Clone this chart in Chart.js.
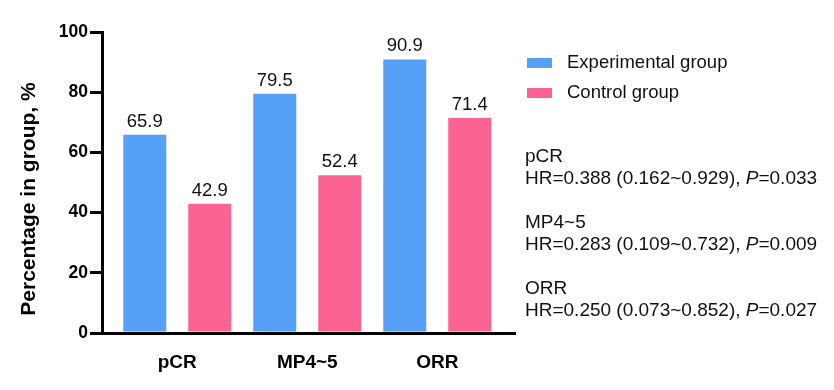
<!DOCTYPE html>
<html>
<head>
<meta charset="utf-8">
<script src="https://cdn.jsdelivr.net/npm/chart.js@4"></script>
<style>
  html, body { margin: 0; padding: 0; background: #fff; }
  #wrap { width: 834px; height: 390px; position: relative; }
</style>
</head>
<body>
<div id="wrap"><canvas id="c" width="834" height="390"></canvas></div>
<script>
// ---- data ----
const categories = ['pCR', 'MP4~5', 'ORR'];
const experimentalValues = [65.9, 79.5, 90.9];
const controlValues = [42.9, 52.4, 71.4];
const seriesNames = ['Experimental group', 'Control group'];
const yTicks = [0, 20, 40, 60, 80, 100];
const yTitle = 'Percentage in group, %';
const hrValues = ['0.388', '0.283', '0.250'];
const ciLow = ['0.162', '0.109', '0.073'];
const ciHigh = ['0.929', '0.732', '0.852'];
const pValues = ['0.033', '0.009', '0.027'];

const FONT = '"Liberation Sans", Arial, Helvetica, sans-serif';
const BLUE = '#56A0F8';
const PINK = '#FB6492';

const overlay = {
  id: 'overlay',
  afterDraw(chart) {
    const ctx = chart.ctx;
    ctx.save();
    // data labels
    ctx.fillStyle = '#111';
    ctx.font = '18.5px ' + FONT;
    ctx.textAlign = 'center';
    ctx.textBaseline = 'alphabetic';
    chart.data.datasets.forEach((ds, di) => {
      const meta = chart.getDatasetMeta(di);
      meta.data.forEach((bar, i) => {
        ctx.fillText(ds.data[i].y.toFixed(1), bar.x, bar.y - 8);
      });
    });
    // y title
    ctx.save();
    ctx.translate(29, 199);
    ctx.rotate(-Math.PI / 2);
    ctx.font = 'bold 21px ' + FONT;
    ctx.textAlign = 'center';
    ctx.textBaseline = 'middle';
    ctx.fillStyle = '#000';
    ctx.fillText(yTitle, 0, 0);
    ctx.restore();
    // legend
    ctx.font = '18.5px ' + FONT;
    ctx.textAlign = 'left';
    ctx.textBaseline = 'middle';
    chart.data.datasets.forEach((ds, di) => {
      const cy = 63 + di * 30;
      ctx.fillStyle = ds.backgroundColor;
      ctx.fillRect(527, cy - 5, 25, 10);
      ctx.fillStyle = '#111';
      ctx.fillText(ds.label, 567, cy);
    });
    // HR annotations
    categories.forEach((cat, i) => {
      const y1 = 157 + i * 66;
      const y2 = y1 + 22;
      const x0 = 525;
      ctx.font = '19px ' + FONT;
      ctx.fillStyle = '#111';
      ctx.fillText(cat, x0, y1);
      const part1 = 'HR=' + hrValues[i] + ' (' + ciLow[i] + '~' + ciHigh[i] + '), ';
      ctx.fillText(part1, x0, y2);
      let x = x0 + ctx.measureText(part1).width;
      ctx.font = 'italic 19px ' + FONT;
      ctx.fillText('P', x, y2);
      x += ctx.measureText('P').width;
      ctx.font = '19px ' + FONT;
      ctx.fillText('=' + pValues[i], x, y2);
    });
    ctx.restore();
  }
};

new Chart(document.getElementById('c'), {
  type: 'bar',
  data: {
    datasets: [
      { label: seriesNames[0], data: experimentalValues.map((v, i) => ({ x: i, y: v })), backgroundColor: BLUE },
      { label: seriesNames[1], data: controlValues.map((v, i) => ({ x: i, y: v })), backgroundColor: PINK }
    ]
  },
  options: {
    responsive: false,
    animation: false,
    events: [],
    layout: { padding: { top: 32, right: 319, bottom: 0, left: 0 } },
    plugins: { legend: { display: false }, tooltip: { enabled: false } },
    datasets: { bar: { categoryPercentage: 1, barPercentage: 0.662 } },
    scales: {
      x: {
        type: 'linear',
        offset: false,
        min: -0.579,
        max: 2.598,
        grid: { display: false, drawTicks: false },
        border: { display: true, color: '#000', width: 3 },
        afterBuildTicks: (s) => { s.ticks = categories.map((c, i) => ({ value: i })); },
        afterFit: (s) => { s.height = 57; s.paddingLeft = 0; s.paddingRight = 0; },
        ticks: {
          autoSkip: false, maxRotation: 0, padding: 18,
          color: '#000',
          font: { family: FONT, size: 19, weight: 'bold' },
          callback: (v) => categories[v]
        }
      },
      y: {
        min: 0, max: 100,
        afterBuildTicks: (s) => { s.ticks = yTicks.map(v => ({ value: v })); },
        afterFit: (s) => { s.width = 102; },
        grid: { drawOnChartArea: false, color: '#000', lineWidth: 3, tickLength: 12 },
        border: { display: true, color: '#000', width: 3 },
        ticks: {
          padding: 2,
          color: '#000',
          font: { family: FONT, size: 17.5, weight: 'bold' }
        }
      }
    }
  },
  plugins: [overlay]
});
</script>
</body>
</html>
